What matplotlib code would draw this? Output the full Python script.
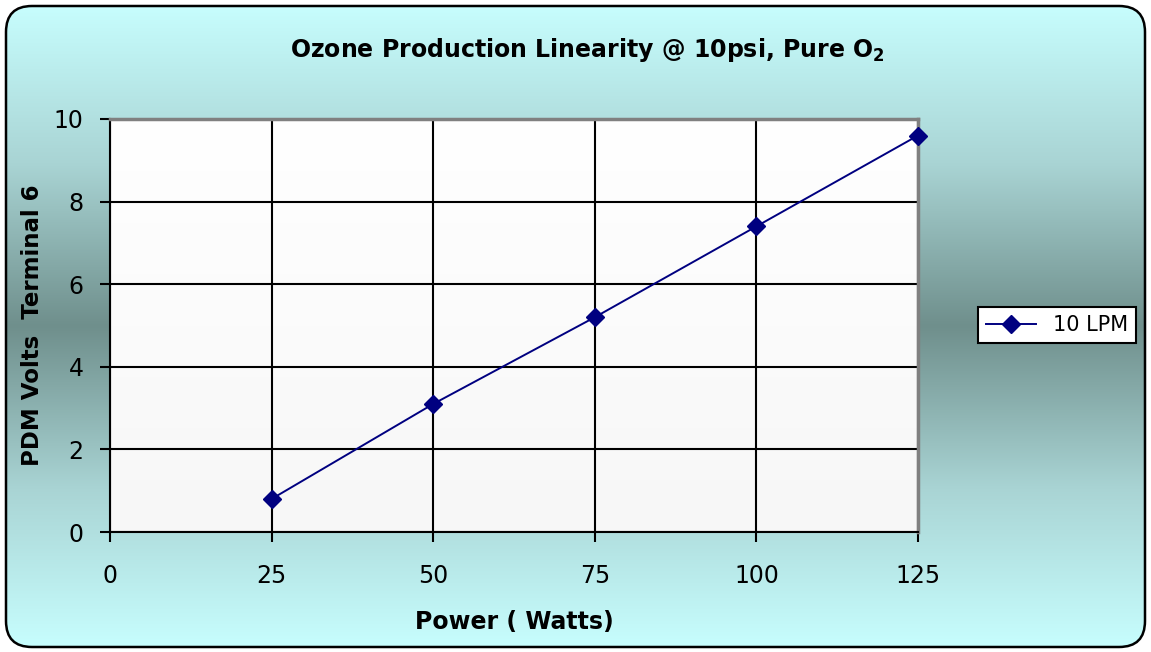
import numpy as np
import matplotlib.pyplot as plt
from matplotlib.patches import FancyBboxPatch
from matplotlib.colors import LinearSegmentedColormap

power = [25, 50, 75, 100, 125]
volts = [0.8, 3.1, 5.2, 7.4, 9.6]
series_name = '10 LPM'
xticks = [0, 25, 50, 75, 100, 125]
yticks = [0, 2, 4, 6, 8, 10]

W, H = 1151, 652
fig = plt.figure(figsize=(W / 100, H / 100), dpi=100)
fig.patch.set_facecolor('white')

# chart area background: cyan -> dark teal -> cyan, with rounded border
bg = fig.add_axes([0, 0, 1, 1])
bg.set_xlim(0, W)
bg.set_ylim(0, H)
bg.axis('off')
cmap = LinearSegmentedColormap.from_list('bg', ['#c8ffff', '#a9d4d4', '#6f8f8c', '#a9d4d4', '#c8ffff'])
grad = np.linspace(0, 1, 256).reshape(-1, 1)
im = bg.imshow(grad, cmap=cmap, extent=[0, W, 0, H], aspect='auto', origin='lower')
frame = FancyBboxPatch((6, 5), W - 12, H - 11, boxstyle='round,pad=0,rounding_size=26',
                       facecolor='none', edgecolor='black', linewidth=1.8)
bg.add_patch(frame)
im.set_clip_path(frame)

ax = fig.add_axes([110 / W, 1 - 532 / H, (918 - 110) / W, (532 - 119) / H])
ax.set_facecolor('none')
pgrad = np.linspace(0, 1, 256).reshape(-1, 1)
pcmap = LinearSegmentedColormap.from_list('pa', ['#f7f7f7', '#ffffff'])
ax.imshow(pgrad, cmap=pcmap, extent=[0, 125, 0, 10], aspect='auto', origin='lower', zorder=0)

ax.plot(power, volts, color='#000080', linewidth=1.4, marker='D', markersize=9,
        label=series_name, zorder=3, clip_on=False)

ax.set_xlim(0, 125)
ax.set_ylim(0, 10)
ax.set_xticks(xticks)
ax.set_yticks(yticks)
ax.set_axisbelow(True)
ax.grid(True, color='black', linewidth=1.5)
for s in ['top', 'right']:
    ax.spines[s].set_color('#808080')
    ax.spines[s].set_linewidth(2.5)
for s in ['left', 'bottom']:
    ax.spines[s].set_color('black')
    ax.spines[s].set_linewidth(1.5)
ax.tick_params(direction='out', length=7, width=1.5, color='black', labelsize=17, pad=12)
ax.tick_params(axis='x', pad=16)

ax.set_xlabel('Power ( Watts)', fontsize=17, fontweight='bold', labelpad=16)
ax.set_ylabel('PDM Volts  Terminal 6', fontsize=16.5, fontweight='bold', labelpad=7)

fig.text(587 / W, 1 - 50 / H,
         r'Ozone Production Linearity @ 10psi, Pure O$_\mathbf{2}$',
         ha='center', va='center', fontsize=17, fontweight='bold')

leg = ax.legend(loc='center', bbox_to_anchor=(1057 / W, 1 - 325 / H),
                bbox_transform=fig.transFigure, fontsize=15, frameon=True, framealpha=1,
                fancybox=False, edgecolor='black', handlelength=2.4, borderpad=0.4)
leg.get_frame().set_linewidth(1.5)
leg.get_frame().set_facecolor('white')

fig.savefig('out.png', dpi=100)
